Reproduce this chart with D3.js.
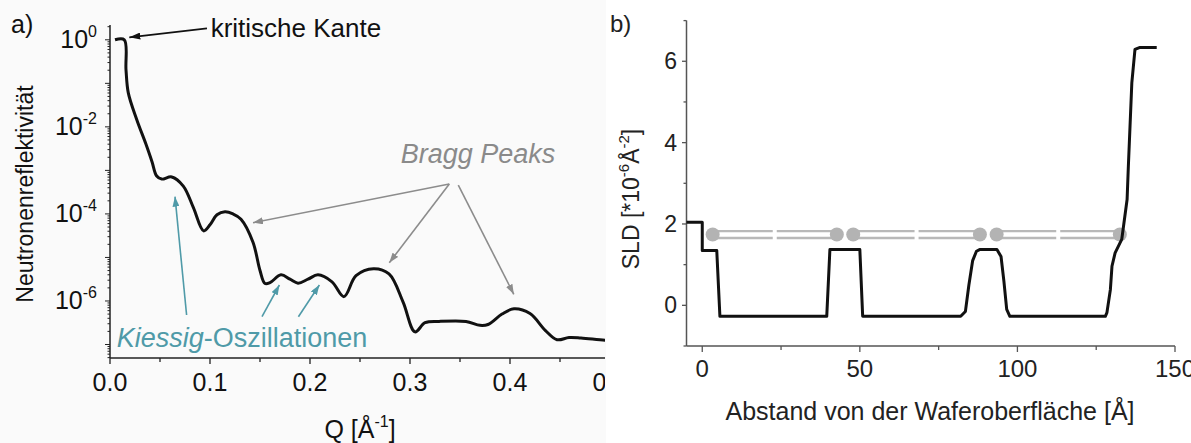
<!DOCTYPE html>
<html>
<head>
<meta charset="utf-8">
<script src="https://cdn.jsdelivr.net/npm/d3@7"></script>
<style>
  body { margin: 0; background: #fff; }
  text { font-family: "Liberation Sans", Arial, sans-serif; }
</style>
</head>
<body>
<svg id="chart" width="1191" height="443"></svg>
<script>
// ---- panel a: reflectivity curve (Q in 1/A, log10 of reflectivity)
const reflQ = [0.005, 0.0143, 0.016, 0.0183, 0.0267, 0.036, 0.042, 0.0467, 0.0517, 0.0617, 0.0733,
  0.0833, 0.0936, 0.100, 0.107, 0.115, 0.123, 0.131, 0.143, 0.150, 0.155, 0.160, 0.171, 0.180, 0.188,
  0.198, 0.208, 0.222, 0.234, 0.246, 0.2635, 0.279, 0.293, 0.305, 0.315, 0.329, 0.356, 0.370, 0.378,
  0.392, 0.404, 0.420, 0.4355, 0.447, 0.459, 0.471, 0.495, 0.51];
const reflLog10 = [0, 0, -0.69, -1.22, -1.83, -2.40, -2.80, -3.13, -3.20, -3.15, -3.36,
  -3.85, -4.39, -4.25, -4.02, -3.95, -4.00, -4.12, -4.65, -5.30, -5.60, -5.58, -5.40, -5.50, -5.59,
  -5.50, -5.40, -5.56, -5.90, -5.42, -5.26, -5.38, -6.02, -6.71, -6.50, -6.47, -6.47, -6.56, -6.54,
  -6.30, -6.18, -6.29, -6.68, -6.89, -6.84, -6.85, -6.90, -6.91];
const reflXTicks = [0, 0.1, 0.2, 0.3, 0.4, 0.5];
const reflYTicks = [0, -2, -4, -6];   // decades that carry a label

// ---- panel b: SLD profile (distance in A, SLD in 1e-6 A^-2)
const sldDepth = [-5, 0, 0, 4.6, 5.6, 39.5, 40.5, 50.0, 50.9, 82.0, 83.5, 84.6, 85.8, 87.0, 88.0,
  93.5, 94.8, 95.7, 96.6, 97.6, 127.9, 128.4, 129.5, 130.0, 131.0, 133.1, 134.8, 135.2, 136.3,
  137.3, 138.9, 144.2];
const sldValue = [2.04, 2.04, 1.35, 1.35, -0.27, -0.27, 1.37, 1.37, -0.27, -0.27, -0.15, 0.5, 1.1,
  1.33, 1.37, 1.37, 1.2, 0.6, -0.1, -0.27, -0.27, -0.18, 0.39, 0.96, 1.29, 1.62, 2.6, 3.42, 5.47,
  6.29, 6.34, 6.34];
const layerDots = [3.3, 42.7, 47.9, 88.1, 93.4, 132.5];
const layerSld = 1.74;
const sldXTicks = [0, 50, 100, 150];
const sldYTicks = [0, 2, 4, 6];

const svg = d3.select("#chart");
const defs = svg.append("defs");

function marker(id, color, len, wid) {
  defs.append("marker")
    .attr("id", id)
    .attr("markerUnits", "userSpaceOnUse")
    .attr("markerWidth", len).attr("markerHeight", wid)
    .attr("refX", len).attr("refY", wid / 2)
    .attr("orient", "auto")
    .append("path")
    .attr("d", `M0,0 L${len},${wid / 2} L0,${wid} Z`)
    .attr("fill", color);
}
marker("arrBlack", "#111", 11, 7);
marker("arrGray", "#8c8c8c", 10, 7);
marker("arrTeal", "#4f9aa8", 10, 7);

// background of the left panel
svg.append("rect").attr("x", 0).attr("y", 0).attr("width", 606).attr("height", 443).attr("fill", "#fafafa");

defs.append("clipPath").attr("id", "clipA")
  .append("rect").attr("x", 0).attr("y", 0).attr("width", 605).attr("height", 443);
defs.append("clipPath").attr("id", "clipB")
  .append("rect").attr("x", 606).attr("y", 0).attr("width", 585).attr("height", 443);

const gA = svg.append("g").attr("clip-path", "url(#clipA)");

const xA = d3.scaleLinear().domain([0, 0.5]).range([110, 610]);
const yA = d3.scaleLog().domain([Math.pow(10, -7.31), Math.pow(10, 0.34)]).range([358, 25]);

// axis lines
gA.append("line").attr("x1", 110).attr("x2", 610).attr("y1", 358).attr("y2", 358)
  .attr("stroke", "#222").attr("stroke-width", 1.5);
gA.append("line").attr("x1", 110).attr("x2", 110).attr("y1", 25).attr("y2", 358)
  .attr("stroke", "#222").attr("stroke-width", 1.5);

// x ticks
d3.range(0, 0.51, 0.05).forEach((q, i) => {
  gA.append("line").attr("x1", xA(q)).attr("x2", xA(q)).attr("y1", 358).attr("y2", i % 2 ? 362 : 364)
    .attr("stroke", "#222").attr("stroke-width", 1.3);
});
gA.selectAll(".xlab").data(reflXTicks).join("text")
  .attr("x", d => xA(d)).attr("y", 391)
  .attr("text-anchor", "middle").attr("font-size", 25).attr("fill", "#111")
  .text(d => d3.format(".1f")(d));

// y ticks (decades + log minor ticks)
for (let e = -8; e <= 0; e++) {
  for (let k = 1; k <= 9; k++) {
    const v = k * Math.pow(10, e);
    if (v < yA.domain()[0] || v > yA.domain()[1]) continue;
    gA.append("line").attr("x1", 110).attr("x2", k === 1 ? 105 : 107.5)
      .attr("y1", yA(v)).attr("y2", yA(v))
      .attr("stroke", "#222").attr("stroke-width", 1);
  }
}
const ylab = gA.selectAll(".ylab").data(reflYTicks).join("text")
  .attr("x", 97).attr("y", d => yA(Math.pow(10, d)) + 8)
  .attr("text-anchor", "end").attr("font-size", 25).attr("fill", "#111");
ylab.append("tspan").text("10");
ylab.append("tspan").attr("font-size", 16).attr("dy", -11).text(d => d === 0 ? "0" : "-" + Math.abs(d));

// curve
const lineA = d3.line()
  .x((d, i) => xA(reflQ[i]))
  .y(d => yA(Math.pow(10, d)))
  .curve(d3.curveCatmullRom.alpha(0.5));
gA.append("path").datum(reflLog10)
  .attr("d", lineA)
  .attr("fill", "none").attr("stroke", "#111").attr("stroke-width", 3).attr("stroke-linejoin", "round");

// labels
gA.append("text").attr("x", 11).attr("y", 33).attr("font-size", 25).attr("fill", "#111").text("a)");
gA.append("text").attr("transform", "translate(33,194) rotate(-90)")
  .attr("text-anchor", "middle").attr("font-size", 23).attr("fill", "#111").text("Neutronenreflektivität");
const qLab = gA.append("text").attr("x", 360).attr("y", 438).attr("text-anchor", "middle")
  .attr("font-size", 25).attr("fill", "#111");
qLab.append("tspan").text("Q [Å");
qLab.append("tspan").attr("font-size", 16).attr("dy", -11).text("-1");
qLab.append("tspan").attr("dy", 11).text("]");

// annotations (in data coordinates)
const P = (q, l) => [xA(q), yA(Math.pow(10, l))];
function arrow(g, from, to, color, mk, w) {
  const a = P(...from), b = P(...to);
  g.append("line").attr("x1", a[0]).attr("y1", a[1]).attr("x2", b[0]).attr("y2", b[1])
    .attr("stroke", color).attr("stroke-width", w).attr("marker-end", `url(#${mk})`);
}
arrow(gA, [0.097, 0.264], [0.0193, 0.057], "#111", "arrBlack", 1.8);
gA.append("text").attr("x", P(0.1007, 0.071)[0]).attr("y", P(0.1007, 0.071)[1])
  .attr("font-size", 26).attr("fill", "#111").text("kritische Kante");

gA.append("text").attr("x", P(0.368, -2.83)[0]).attr("y", P(0.368, -2.83)[1])
  .attr("text-anchor", "middle").attr("font-size", 27).attr("font-style", "italic")
  .attr("fill", "#8a8a8a").text("Bragg Peaks");
arrow(gA, [0.3393, -3.313], [0.143, -4.202], "#8c8c8c", "arrGray", 1.6);
arrow(gA, [0.3393, -3.313], [0.2793, -5.121], "#8c8c8c", "arrGray", 1.6);
arrow(gA, [0.3483, -3.336], [0.4038, -5.847], "#8c8c8c", "arrGray", 1.6);

const kt = gA.append("text").attr("x", P(0.0067, -7.057)[0]).attr("y", P(0.0067, -7.057)[1])
  .attr("font-size", 27).attr("fill", "#4f9aa8");
kt.append("tspan").attr("font-style", "italic").text("Kiessig");
kt.append("tspan").text("-Oszillationen");
arrow(gA, [0.0766, -6.322], [0.065, -3.604], "#4f9aa8", "arrTeal", 1.6);
arrow(gA, [0.152, -6.361], [0.1694, -5.633], "#4f9aa8", "arrTeal", 1.6);
arrow(gA, [0.1884, -6.361], [0.2094, -5.633], "#4f9aa8", "arrTeal", 1.6);

// ---- panel b
const gB = svg.append("g").attr("clip-path", "url(#clipB)");
const xB = d3.scaleLinear().domain([-5, 150]).range([686.5, 1175]);
const yB = d3.scaleLinear().domain([-1, 7]).range([346, 20.6]);
const axisColor = "#555";

gB.append("line").attr("x1", 686.5).attr("x2", 1175).attr("y1", 346).attr("y2", 346)
  .attr("stroke", axisColor).attr("stroke-width", 1.5);
gB.append("line").attr("x1", 686.5).attr("x2", 686.5).attr("y1", 20.6).attr("y2", 346)
  .attr("stroke", axisColor).attr("stroke-width", 1.5);

d3.range(0, 151, 25).forEach((d, i) => {
  gB.append("line").attr("x1", xB(d)).attr("x2", xB(d)).attr("y1", 346).attr("y2", i % 2 ? 350 : 352)
    .attr("stroke", axisColor).attr("stroke-width", 1.3);
});
d3.range(-1, 7.01, 1).forEach(v => {
  gB.append("line").attr("x1", 686.5).attr("x2", Math.abs(v) % 2 === 1 ? 683.5 : 682)
    .attr("y1", yB(v)).attr("y2", yB(v))
    .attr("stroke", axisColor).attr("stroke-width", 1.3);
});
gB.selectAll(".bx").data(sldXTicks).join("text")
  .attr("x", d => xB(d)).attr("y", 377)
  .attr("text-anchor", "middle").attr("font-size", 24).attr("fill", "#222").text(d => d);
gB.selectAll(".by").data(sldYTicks).join("text")
  .attr("x", 677).attr("y", d => yB(d) + 8)
  .attr("text-anchor", "end").attr("font-size", 23).attr("fill", "#222").text(d => d);

// layer markers: double lines with a gap in the middle, dots at the ends
const pairs = [[0, 1], [2, 3], [4, 5]];
const yL = yB(layerSld);
pairs.forEach(([a, b]) => {
  const x1 = xB(layerDots[a]), x2 = xB(layerDots[b]), xm = (x1 + x2) / 2;
  [-3.4, 3.4].forEach(off => {
    [[x1, xm - 2], [xm + 2, x2]].forEach(seg => {
      gB.append("line").attr("x1", seg[0]).attr("x2", seg[1]).attr("y1", yL + off).attr("y2", yL + off)
        .attr("stroke", "#b8b8b8").attr("stroke-width", 2.4);
    });
  });
});
gB.selectAll(".dot").data(layerDots).join("circle")
  .attr("cx", d => xB(d)).attr("cy", yL).attr("r", 7).attr("fill", "#b3b3b3");

const lineB = d3.line().x((d, i) => xB(sldDepth[i])).y(d => yB(d));
gB.append("path").datum(sldValue)
  .attr("d", lineB)
  .attr("fill", "none").attr("stroke", "#111").attr("stroke-width", 3).attr("stroke-linejoin", "round");

gB.append("text").attr("x", 610).attr("y", 32).attr("font-size", 24).attr("fill", "#222").text("b)");
const sl = gB.append("text").attr("transform", "translate(639,199) rotate(-90)")
  .attr("text-anchor", "middle").attr("font-size", 23).attr("fill", "#222");
sl.append("tspan").text("SLD [*10");
sl.append("tspan").attr("font-size", 15).attr("dy", -10).text("-6");
sl.append("tspan").attr("dy", 10).text("Å");
sl.append("tspan").attr("font-size", 15).attr("dy", -10).text("-2");
sl.append("tspan").attr("dy", 10).text("]");
gB.append("text").attr("x", 930).attr("y", 420).attr("text-anchor", "middle")
  .attr("font-size", 25).attr("fill", "#222").text("Abstand von der Waferoberfläche [Å]");
</script>
</body>
</html>
